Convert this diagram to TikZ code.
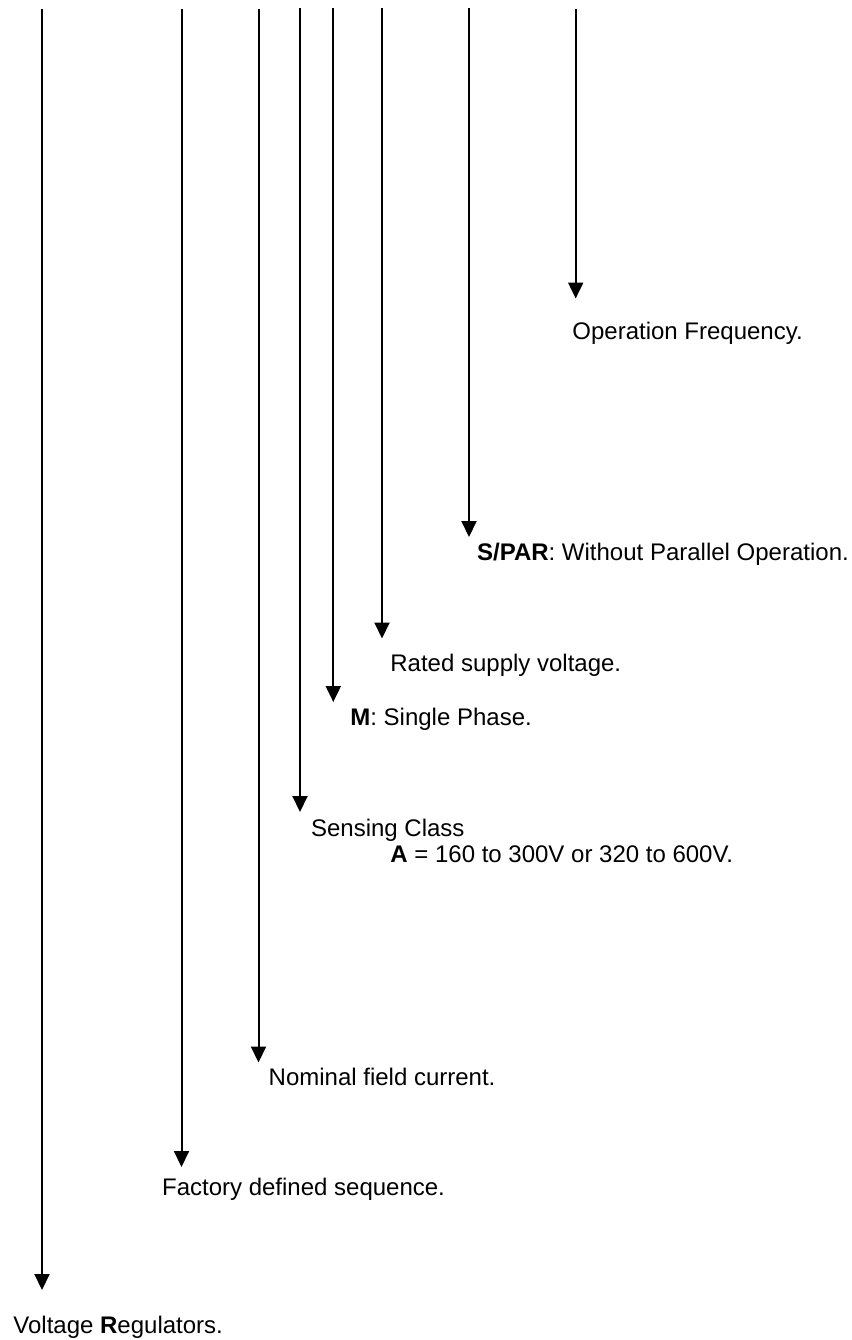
\documentclass[tikz,border=0pt]{standalone}
\usepackage{fontspec}
\setmainfont{Liberation Sans}
\usetikzlibrary{arrows.meta}
\begin{document}
\begin{tikzpicture}[x=0.5pt,y=-0.5pt,
  lead/.style={line width=1pt,-{Triangle[width=7.5pt,length=8pt]}},
  lbl/.style={anchor=base west,inner sep=0pt,font=\fontsize{12}{14}\selectfont}]
\useasboundingbox (0,0) rectangle (852,1340);
% tops and tips
\coordinate (t1) at (42,9);     \coordinate (e1) at (42,1290);
\coordinate (t2) at (181.5,9);  \coordinate (e2) at (181.5,1167);
\coordinate (t3) at (258.5,9);  \coordinate (e3) at (258.5,1062.5);
\coordinate (t4) at (300,8);    \coordinate (e4) at (300,812);
\coordinate (t5) at (333.3,8);  \coordinate (e5) at (333.3,702);
\coordinate (t6) at (382,8);    \coordinate (e6) at (382,638.5);
\coordinate (t7) at (469,8);    \coordinate (e7) at (469,537);
\coordinate (t8) at (575.7,9);  \coordinate (e8) at (575.7,298.5);
% labels
\node[lbl] (l1) at (13,1333) {Voltage \textbf{R}egulators.};
\node[lbl] (l2) at (161.7,1195) {Factory defined sequence.};
\node[lbl] (l3) at (268.3,1085) {Nominal field current.};
\node[lbl] (l4) at (310.7,836) {Sensing Class};
\node[lbl] (l4b) at (390,862.7) {\textbf{A} = 160 to 300V or 320 to 600V.};
\node[lbl] (l5) at (350,725) {\textbf{M}: Single Phase.};
\node[lbl] (l6) at (390,671) {Rated supply voltage.};
\node[lbl] (l7) at (476.7,560.7) {\textbf{S/PAR}: Without Parallel Operation.};
\node[lbl] (l8) at (572,339.3) {Operation Frequency.};
% leaders
\foreach \i in {1,...,8} {\draw[lead] (t\i) -- (e\i);}
\end{tikzpicture}
\end{document}
